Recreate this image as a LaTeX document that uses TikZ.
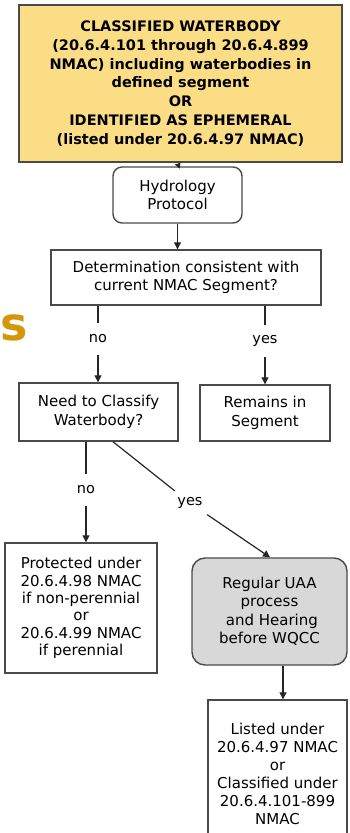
\documentclass[tikz,border=0pt]{standalone}
\usepackage{fontspec}
\setmainfont{DejaVu Sans}
\usetikzlibrary{arrows.meta}
\definecolor{boxyellow}{HTML}{FADD85}
\definecolor{boxgray}{HTML}{D8D8D8}
\definecolor{edge}{HTML}{4A4A4A}
\definecolor{titleorange}{HTML}{D4960A}
\tikzset{
  box/.style={draw=edge, line width=1.4pt, fill=white, align=center, inner sep=1pt,
    font=\fontsize{15}{18.5}\selectfont},
  rbox/.style={box, rounded corners=9pt},
  lab/.style={inner sep=0pt, minimum height=32pt, font=\fontsize{14.5}{16}\selectfont},
  conn/.style={draw=black!85, line width=1.2pt},
  arr/.style={conn, -{Triangle[length=7pt,width=7pt]}}
}
\begin{document}
\begin{tikzpicture}[x={(1pt,0)}, y={(0,-1pt)}]
\useasboundingbox (0,0) rectangle (349,833);
\clip (0,0) rectangle (349,833);
\fill[white] (0,0) rectangle (349,833);
% partial orange title letter at left edge
\node[anchor=base west, inner sep=0pt, text=titleorange, font=\fontsize{46}{46}\selectfont\bfseries] (ttl) at (0.5,340) {s};
% boxes
\node[box, fill=boxyellow, minimum width=323pt, minimum height=157pt, font=\fontsize{14.5}{18.8}\selectfont\bfseries] (top) at (180.5,83.5)
  {CLASSIFIED WATERBODY\\(20.6.4.101 through 20.6.4.899\\NMAC) including waterbodies in\\defined segment\\OR\\IDENTIFIED AS EPHEMERAL\\(listed under 20.6.4.97 NMAC)};
\node[rbox, minimum width=129pt, minimum height=56pt] (hyd) at (177.5,195) {Hydrology\\Protocol};
\node[box, minimum width=270pt, minimum height=55pt] (det) at (186,277.5) {Determination consistent with\\current NMAC Segment?};
\node[box, minimum width=159pt, minimum height=58pt] (need) at (98.5,412) {Need to Classify\\Waterbody?};
\node[box, minimum width=130pt, minimum height=56pt] (rem) at (265,413) {Remains in\\Segment};
\node[box, minimum width=152pt, minimum height=130pt, font=\fontsize{15}{17.4}\selectfont] (prot) at (81,608)
  {Protected under\\20.6.4.98 NMAC\\if non-perennial\\or\\20.6.4.99 NMAC\\if perennial};
\node[rbox, fill=boxgray, rounded corners=13pt, minimum width=155pt, minimum height=107pt] (uaa) at (269.5,611.5)
  {Regular UAA\\process\\\ and Hearing\\before WQCC};
\node[box, minimum width=139pt, minimum height=148pt, font=\fontsize{15}{18}\selectfont] (list) at (277.5,774)
  {Listed under\\20.6.4.97 NMAC\\or\\Classified under\\20.6.4.101-899\\NMAC};
% labels
\node[lab] (no1) at (98,339) {no};
\node[lab] (yes1) at (265,341) {yes};
\node[lab] (no2) at (86,490) {no};
\node[lab, minimum height=24pt, minimum width=34pt] (yes2) at (190,503) {yes};
% connectors
\draw[arr, -{Triangle[length=5pt,width=6pt]}] (hyd.north) -- (top.south);
\draw[arr] (hyd.south) -- (det.north -| hyd.south);
\draw[conn] (det.south -| no1) -- (no1.north);
\draw[arr] (no1.south) -- (need.north -| no1);
\draw[conn] (det.south -| yes1) -- (yes1.north);
\draw[arr] (yes1.south) -- (rem.north -| yes1);
\draw[conn] (need.south -| no2) -- (no2.north);
\draw[arr] (no2.south) -- (prot.north -| no2);
\coordinate (dstart) at (need.south -| 113,0);
\coordinate (dend) at (uaa.north -| 270,0);
\draw[conn] (dstart) -- (yes2);
\draw[arr] (yes2) -- (dend);
\draw[arr] (uaa.south -| 283,0) -- (list.north -| 283,0);
\end{tikzpicture}
\end{document}
